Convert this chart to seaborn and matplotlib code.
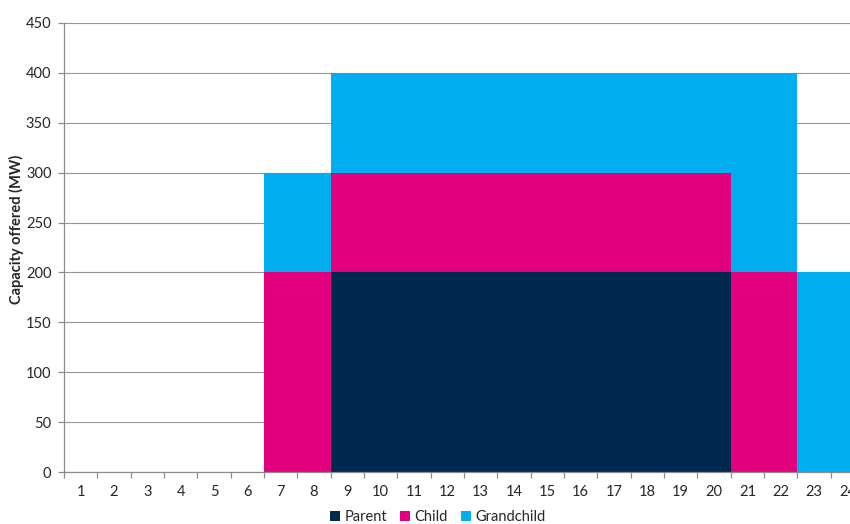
import matplotlib
matplotlib.use("Agg")
import matplotlib.pyplot as plt
from matplotlib.patches import Patch
from matplotlib.ticker import FixedLocator
import seaborn as sns

# Hourly capacity offered (MW) by product tier
hours = [str(h) for h in range(1, 25)]
parent = [0, 0, 0, 0, 0, 0, 0, 0, 200, 200, 200, 200, 200, 200, 200, 200,
          200, 200, 200, 200, 0, 0, 0, 0]
child = [0, 0, 0, 0, 0, 0, 200, 200, 100, 100, 100, 100, 100, 100, 100, 100,
         100, 100, 100, 100, 200, 200, 0, 0]
grandchild = [0, 0, 0, 0, 0, 0, 100, 100, 100, 100, 100, 100, 100, 100, 100, 100,
              100, 100, 100, 100, 200, 200, 200, 200]
series_names = ["Parent", "Child", "Grandchild"]
colors = ["#00294F", "#E3007E", "#00ADEE"]

sns.set_theme(style="white")
plt.rcParams["font.family"] = ["Lato", "DejaVu Sans"]

fig = plt.figure(figsize=(8.5, 5.24), dpi=100)
ax = fig.add_axes([64 / 850, 52 / 524, 800 / 850, 449 / 524])

bottom = [0] * len(hours)
for vals, c in zip([parent, child, grandchild], colors):
    sns.barplot(x=hours, y=vals, bottom=bottom, color=c, width=1.0,
                saturation=1, linewidth=0, ax=ax, zorder=2)
    bottom = [b + v for b, v in zip(bottom, vals)]

ax.set_xlim(-0.5, 23.5)
ax.set_ylim(0, 450)
ax.set_yticks(range(0, 451, 50))
ax.yaxis.grid(True, color="#969696", linewidth=0.8, zorder=0)
ax.set_axisbelow(True)

for side in ["top", "right"]:
    ax.spines[side].set_visible(False)
for side in ["left", "bottom"]:
    ax.spines[side].set_color("#8C8C8C")
    ax.spines[side].set_linewidth(0.9)

ax.tick_params(axis="y", length=4, color="#8C8C8C", width=0.9, labelsize=10.5,
               left=True, pad=5)
ax.tick_params(axis="x", which="major", length=0, labelsize=10.5, pad=9)
ax.xaxis.set_minor_locator(FixedLocator([i - 0.5 for i in range(25)]))
ax.tick_params(axis="x", which="minor", length=4, color="#8C8C8C", width=0.9,
               bottom=True)

ax.set_xlabel("")
ax.set_ylabel("Capacity offered (MW)", fontsize=10.5, fontweight="bold")
ax.yaxis.set_label_coords(-0.05, 0.54)

handles = [Patch(facecolor=c, edgecolor="none") for c in colors]
fig.legend(handles, series_names, loc="lower center", ncol=3, frameon=False,
           bbox_to_anchor=(0.515, -0.026), fontsize=10.5, handlelength=0.7,
           handleheight=0.7, handletextpad=0.3, columnspacing=0.9)

fig.savefig("out.png", dpi=100)
